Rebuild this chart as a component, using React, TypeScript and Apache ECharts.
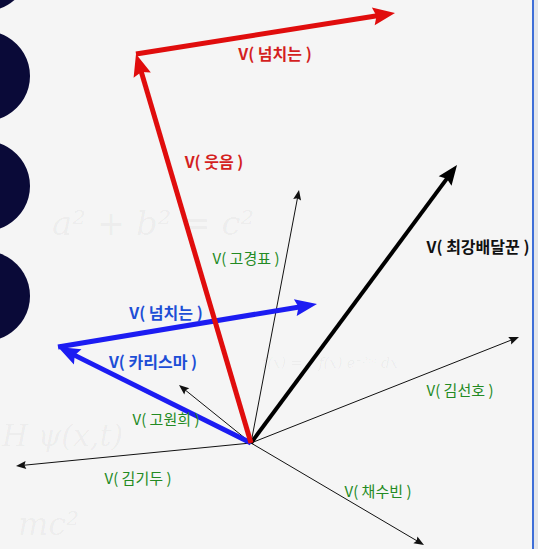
import React, { useEffect, useRef } from "react";
import * as echarts from "echarts";

// Vector coordinates (y up), origin at the common tail
const thinNames = ["고경표", "김선호", "채수빈", "김기두", "고원희"];
const thinTips = [
  [48, 253],
  [268, 106],
  [173, -102],
  [-235, -23],
  [-72, 58],
];
const boldBlackName = "최강배달꾼";
const boldBlackTip = [206, 278];
const redPath = [
  [0, 0],
  [-115, 389],
  [144, 430],
];
const bluePath = [
  [0, 0],
  [-193, 96],
  [66, 139],
];

// Labels
const labelTexts = [
  "V( 넘치는 )",
  "V( 웃음 )",
  "V( 고경표 )",
  "V( 최강배달꾼 )",
  "V( 넘치는 )",
  "V( 카리스마 )",
  "V( 고원희 )",
  "V( 김선호 )",
  "V( 김기두 )",
  "V( 채수빈 )",
];
const labelAt = [
  [24, 390],
  [-37, 282],
  [-5, 186],
  [227, 197],
  [-85, 131],
  [-98, 82],
  [-85, 25],
  [209, 54],
  [-113, -34],
  [127, -47],
];
const labelKind = ["red", "red", "green", "black", "blue", "blue", "green", "green", "green", "green"];

const X_MIN = -251,
  X_MAX = 287,
  Y_MIN = -106,
  Y_MAX = 443;

const STYLES: Record<string, { color: string; width: number; head: number; half: number }> = {
  thin: { color: "#111111", width: 1, head: 10, half: 4 },
  black: { color: "#000000", width: 4, head: 20, half: 8 },
  red: { color: "#e00d0d", width: 5, head: 22, half: 9 },
  blue: { color: "#1c1cf2", width: 5, head: 22, half: 8.5 },
};
const kinds = ["thin", "black", "red", "blue"];

const LABEL_COLORS: Record<string, string> = {
  red: "#d41f1f",
  blue: "#1d4ed6",
  black: "#111111",
  green: "#238a23",
};

export default function App() {
  const ref = useRef<HTMLDivElement>(null);
  useEffect(() => {
    if (!ref.current) return;
    const chart = echarts.init(ref.current, null, { renderer: "svg" });

    const segs: number[][] = [];
    thinTips.forEach((t) => segs.push([0, 0, t[0], t[1], 0]));
    segs.push([0, 0, boldBlackTip[0], boldBlackTip[1], 1]);
    for (let i = 1; i < bluePath.length; i++)
      segs.push([bluePath[i - 1][0], bluePath[i - 1][1], bluePath[i][0], bluePath[i][1], 3]);
    for (let i = 1; i < redPath.length; i++)
      segs.push([redPath[i - 1][0], redPath[i - 1][1], redPath[i][0], redPath[i][1], 2]);

    const labels = labelAt.map((p, i) => [p[0], p[1], i]);

    const watermark = (text: string, x: number, y: number, size: number) => ({
      type: "text",
      x,
      y,
      silent: true,
      z: -10,
      style: {
        text,
        fill: "rgba(0,0,0,0.045)",
        font: `italic ${size}px "DejaVu Serif", serif`,
      },
    });

    chart.setOption({
      animation: false,
      backgroundColor: "#f5f5f5",
      grid: { left: 0, right: 0, top: 0, bottom: 0 },
      xAxis: { type: "value", min: X_MIN, max: X_MAX, show: false },
      yAxis: { type: "value", min: Y_MIN, max: Y_MAX, show: false },
      graphic: [
        watermark("a² + b² = c²", 52, 206, 34),
        watermark("H ψ(x,t)", 2, 420, 30),
        watermark("f(x) = ∫ f(x) e⁻²ᵖⁱ dx", 262, 356, 14),
        watermark("mc²", 18, 508, 32),
        { type: "circle", shape: { cx: -15, cy: -34, r: 45 }, style: { fill: "#0a0a38" } },
        { type: "circle", shape: { cx: -15, cy: 76, r: 45 }, style: { fill: "#0a0a38" } },
        { type: "circle", shape: { cx: -15, cy: 186, r: 45 }, style: { fill: "#0a0a38" } },
        { type: "circle", shape: { cx: -15, cy: 296, r: 45 }, style: { fill: "#0a0a38" } },
        { type: "rect", shape: { x: 532, y: 0, width: 2, height: 549 }, style: { fill: "#3f6fd8" } },
        { type: "rect", shape: { x: 534, y: 0, width: 4, height: 549 }, style: { fill: "#e4e6ea" } },
      ],
      series: [
        {
          type: "custom",
          coordinateSystem: "cartesian2d",
          data: segs,
          renderItem: (params: any, api: any) => {
            const s = STYLES[kinds[api.value(4)]];
            const p0 = api.coord([api.value(0), api.value(1)]);
            const p1 = api.coord([api.value(2), api.value(3)]);
            const dx = p1[0] - p0[0],
              dy = p1[1] - p0[1];
            const len = Math.sqrt(dx * dx + dy * dy);
            const ux = dx / len,
              uy = dy / len;
            const px = -uy,
              py = ux;
            const bx = p1[0] - ux * s.head,
              by = p1[1] - uy * s.head;
            const nx = p1[0] - ux * s.head * 0.85,
              ny = p1[1] - uy * s.head * 0.85;
            const lineEnd = [p1[0] - ux * s.head * 0.6, p1[1] - uy * s.head * 0.6];
            return {
              type: "group",
              children: [
                {
                  type: "line",
                  shape: { x1: p0[0], y1: p0[1], x2: lineEnd[0], y2: lineEnd[1] },
                  style: { stroke: s.color, lineWidth: s.width, lineCap: "butt" },
                },
                {
                  type: "polygon",
                  shape: {
                    points: [
                      [p1[0], p1[1]],
                      [bx + px * s.half, by + py * s.half],
                      [nx, ny],
                      [bx - px * s.half, by - py * s.half],
                    ],
                  },
                  style: { fill: s.color },
                },
              ],
            };
          },
        },
        {
          type: "custom",
          coordinateSystem: "cartesian2d",
          data: labels,
          z: 5,
          renderItem: (params: any, api: any) => {
            const i = api.value(2);
            const p = api.coord([api.value(0), api.value(1)]);
            const k = labelKind[i];
            const bold = k !== "green";
            return {
              type: "text",
              x: p[0],
              y: p[1],
              style: {
                text: labelTexts[i],
                fill: LABEL_COLORS[k],
                fontSize: bold ? 16 : 15,
                fontWeight: bold ? "bold" : "normal",
                fontFamily: '"Noto Sans CJK KR", sans-serif',
                align: "center",
                verticalAlign: "middle",
              },
            };
          },
        },
      ],
    });
    return () => chart.dispose();
  }, []);
  return (
    <div
      ref={ref}
      style={{ position: "fixed", left: 0, top: 0, width: 538, height: 549 }}
    />
  );
}
